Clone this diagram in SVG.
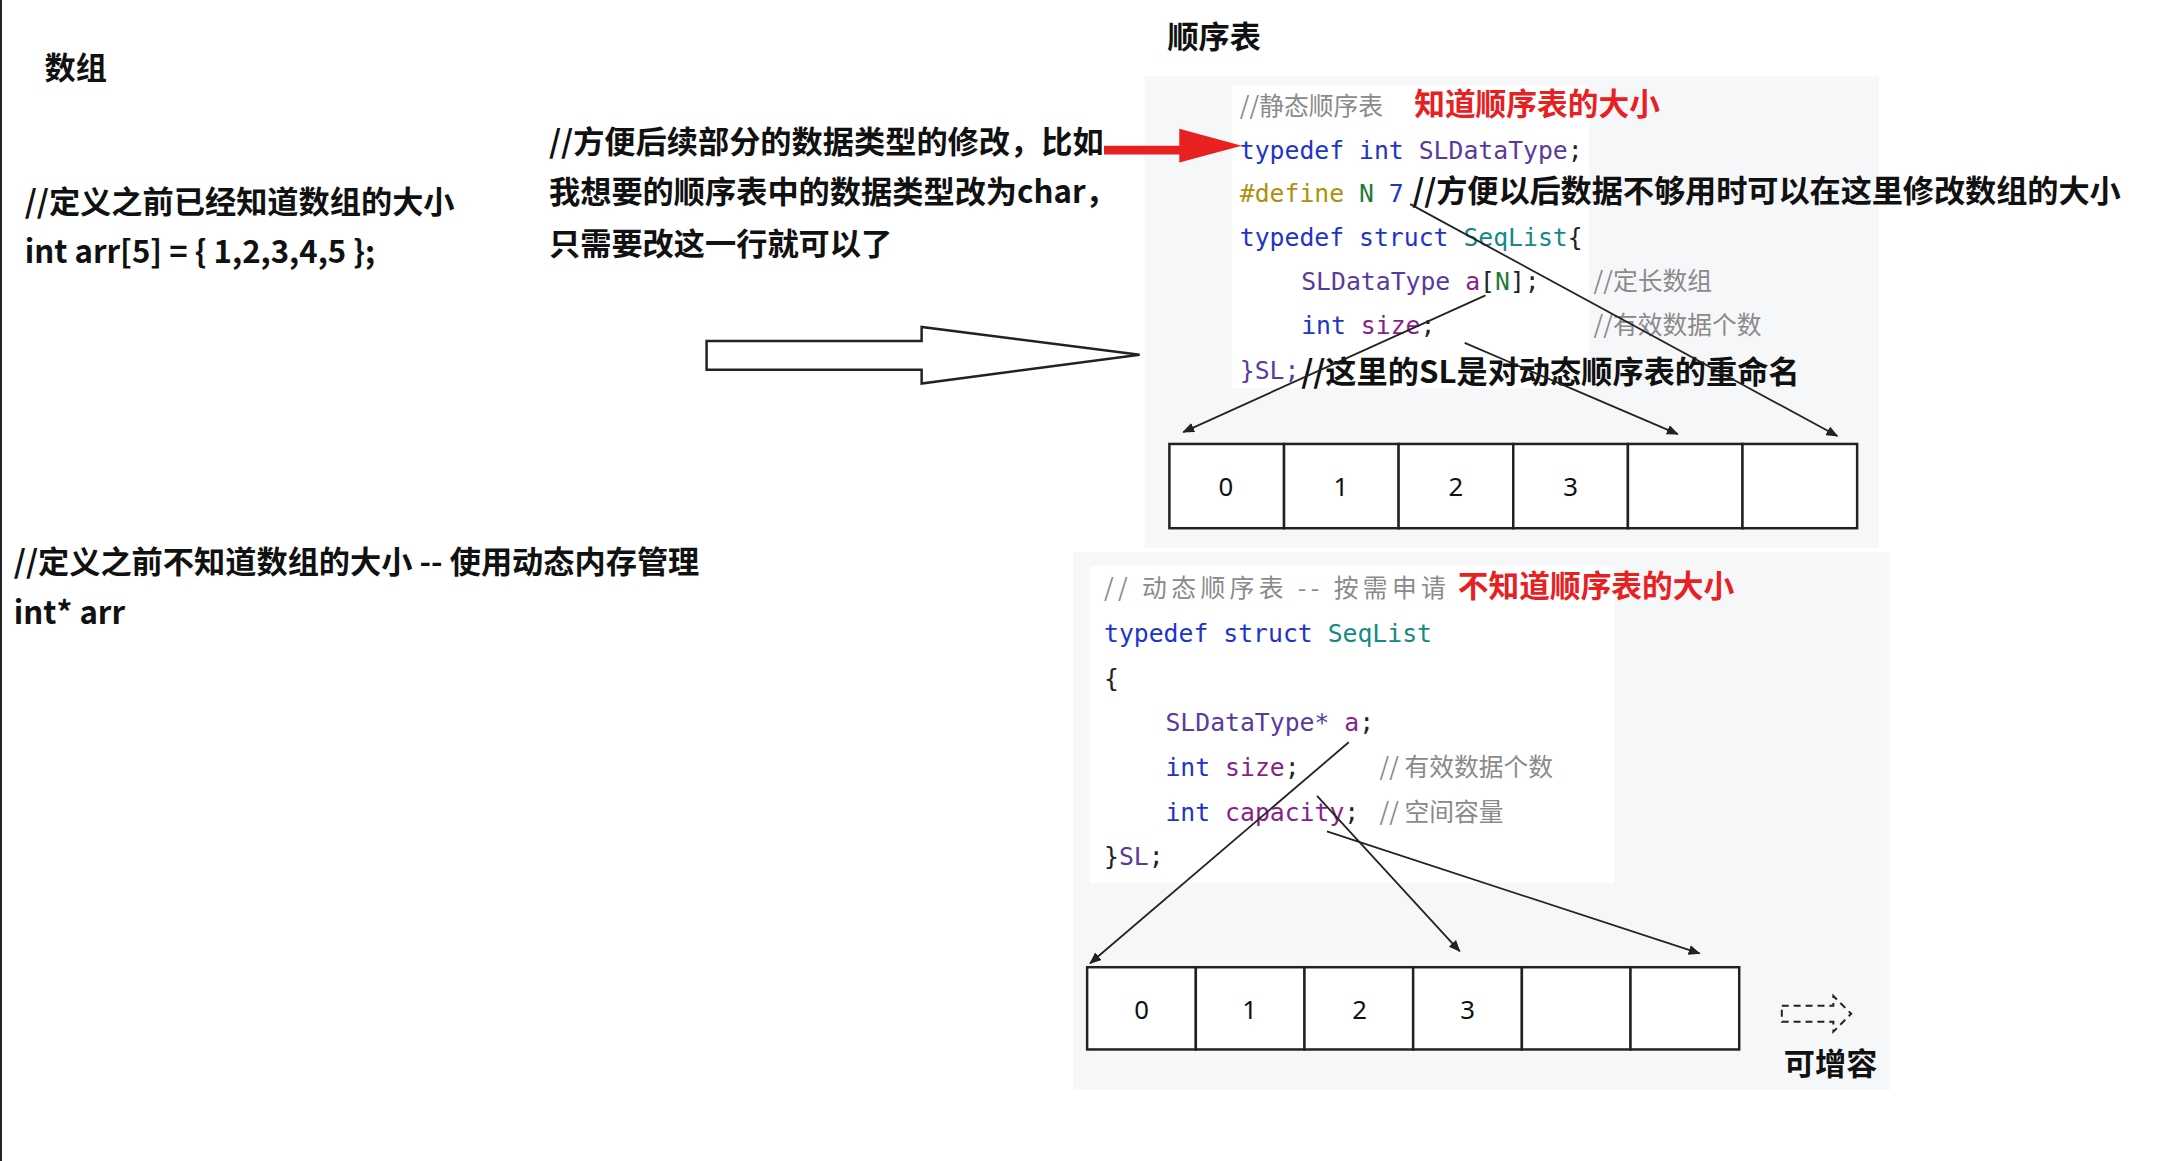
<svg xmlns="http://www.w3.org/2000/svg" width="2161" height="1161" viewBox="0 0 2161 1161">
<style>
.b{font-family:"Noto Sans CJK SC","Noto Sans",sans-serif;font-weight:bold;font-size:31.5px;fill:#111}
.c{font-family:"DejaVu Sans Mono","Noto Sans CJK SC",monospace;font-size:25px}
.kw{fill:#2034c8}.ty{fill:#5b3a9e}.tl{fill:#138a85}.cm{fill:#8a8a8a;font-family:"Noto Sans CJK SC",sans-serif}.pp{fill:#b0900a}.gr{fill:#1f7a3a}.va{fill:#8a1f8a}.bk{fill:#222}
.red{font-family:"Noto Sans CJK SC",sans-serif;font-weight:bold;font-size:31px;fill:#e8201f}
.cell{fill:#fff;stroke:#222;stroke-width:2.5}
.n{font-family:"Noto Sans",sans-serif;font-size:26px;fill:#111;text-anchor:middle}
.ln{stroke:#222;stroke-width:1.8;fill:none;marker-end:url(#ah)}
</style>
<defs><marker id="ah" markerWidth="12" markerHeight="10" refX="11" refY="5" orient="auto" markerUnits="userSpaceOnUse"><path d="M0,0 L12,5 L0,10 Z" fill="#222"/></marker></defs>
<rect width="2161" height="1161" fill="#fff"/>
<line x1="1" y1="0" x2="1" y2="1161" stroke="#222" stroke-width="2"/>
<g transform="scale(0.991)">
<g id="left">
<text class="b" x="45" y="80">数组</text>
<text class="b" x="25" y="215">//定义之前已经知道数组的大小</text>
<text class="b" x="25" y="265">int arr[5] = { 1,2,3,4,5 };</text>
<text class="b" x="14" y="578">//定义之前不知道数组的大小 -- 使用动态内存管理</text>
<text class="b" x="14" y="630">int* arr</text>
</g>
<g id="note">
<text class="b" x="554" y="154">//方便后续部分的数据类型的修改，比如</text>
<text class="b" x="554" y="205">我想要的顺序表中的数据类型改为char，</text>
<text class="b" x="554" y="257">只需要改这一行就可以了</text>
</g>
<text class="b" x="1178" y="48">顺序表</text>
<g id="static">
<rect x="1155" y="77" width="741" height="476" fill="#f6f7f9"/>
<rect x="1243" y="86" width="360" height="306" fill="#fff"/>
<text class="c cm" x="1251" y="116" font-size="25">//静态顺序表</text>
<text class="red" x="1427" y="116">知道顺序表的大小</text>
<text class="c" x="1251" y="160"><tspan class="kw">typedef int </tspan><tspan class="ty">SLDataType</tspan><tspan class="bk">;</tspan></text>
<text class="c" x="1251" y="204"><tspan class="pp">#define </tspan><tspan class="gr">N </tspan><tspan class="kw">7</tspan></text>
<text class="b" x="1425" y="204" textLength="715">//方便以后数据不够用时可以在这里修改数组的大小</text>
<text class="c" x="1251" y="248"><tspan class="kw">typedef struct </tspan><tspan class="tl">SeqList</tspan><tspan class="bk">{</tspan></text>
<text class="c" x="1313" y="293"><tspan class="ty">SLDataType </tspan><tspan class="va">a</tspan><tspan class="bk">[</tspan><tspan class="gr">N</tspan><tspan class="bk">];</tspan></text>
<text class="c cm" x="1608" y="293" font-size="21">//定长数组</text>
<text class="c" x="1313" y="337"><tspan class="kw">int </tspan><tspan class="va">size</tspan><tspan class="bk">;</tspan></text>
<text class="c cm" x="1608" y="337" font-size="21">//有效数据个数</text>
<text class="c" x="1251" y="382"><tspan class="ty">}SL;</tspan></text>
<text class="b" x="1313" y="386" textLength="503">//这里的SL是对动态顺序表的重命名</text>
<rect class="cell" x="1180" y="448" width="115.7" height="85"/><rect class="cell" x="1295.7" y="448" width="115.7" height="85"/><rect class="cell" x="1411.3" y="448" width="115.7" height="85"/><rect class="cell" x="1527" y="448" width="115.7" height="85"/><rect class="cell" x="1642.7" y="448" width="115.7" height="85"/><rect class="cell" x="1758.3" y="448" width="115.7" height="85"/>
<text class="n" x="1237" y="500">0</text><text class="n" x="1353" y="500">1</text><text class="n" x="1469" y="500">2</text><text class="n" x="1585" y="500">3</text>
</g>
<g id="dynamic">
<rect x="1083" y="557" width="824" height="543" fill="#f6f7f9"/>
<rect x="1100" y="571" width="529" height="320" fill="#fff"/>
<text class="c cm" x="1114" y="602" font-size="26" textLength="345">//  动态顺序表  --  按需申请</text>
<text class="red" x="1471" y="602">不知道顺序表的大小</text>
<text class="c" x="1114" y="648"><tspan class="kw">typedef struct </tspan><tspan class="tl">SeqList</tspan></text>
<text class="c bk" x="1114" y="693">{</text>
<text class="c" x="1176" y="738"><tspan class="ty">SLDataType* </tspan><tspan class="va">a</tspan><tspan class="bk">;</tspan></text>
<text class="c" x="1176" y="783"><tspan class="kw">int </tspan><tspan class="va">size</tspan><tspan class="bk">;</tspan></text>
<text class="c cm" x="1392" y="783" font-size="26">//  有效数据个数</text>
<text class="c" x="1176" y="828"><tspan class="kw">int </tspan><tspan class="va">capacity</tspan><tspan class="bk">;</tspan></text>
<text class="c cm" x="1392" y="828" font-size="26">//  空间容量</text>
<text class="c" x="1114" y="873"><tspan class="bk">}</tspan><tspan class="ty">SL</tspan><tspan class="bk">;</tspan></text>
<rect class="cell" x="1097" y="976" width="109.7" height="83"/><rect class="cell" x="1206.7" y="976" width="109.7" height="83"/><rect class="cell" x="1316.3" y="976" width="109.7" height="83"/><rect class="cell" x="1426" y="976" width="109.7" height="83"/><rect class="cell" x="1535.7" y="976" width="109.7" height="83"/><rect class="cell" x="1645.3" y="976" width="109.7" height="83"/>
<text class="n" x="1152" y="1028">0</text><text class="n" x="1261" y="1028">1</text><text class="n" x="1372" y="1028">2</text><text class="n" x="1481" y="1028">3</text>
<path d="M1798,1015 H1850 V1005 L1868,1023 L1850,1041 V1031 H1798 Z" fill="none" stroke="#222" stroke-width="2" stroke-dasharray="7,5"/>
<text class="b" x="1800" y="1085" font-size="24">可增容</text>
</g>
<g id="connectors">
<path d="M1114,147 H1190 V130 L1253,147 L1190,164 V156 H1114 Z" fill="#e8201f"/>
<path d="M713,344 H930 V330 L1150,358 L930,387 V373 H713 Z" fill="#fff" stroke="#222" stroke-width="2.5"/>
<line class="ln" x1="1423" y1="206" x2="1854" y2="440"/>
<line class="ln" x1="1499" y1="298" x2="1194" y2="436"/>
<line class="ln" x1="1478" y1="346" x2="1693" y2="438"/>
<line class="ln" x1="1361" y1="749" x2="1100" y2="972"/>
<line class="ln" x1="1329" y1="803" x2="1473" y2="960"/>
<line class="ln" x1="1339" y1="839" x2="1715" y2="962"/>
</g>
</g>
</svg>
